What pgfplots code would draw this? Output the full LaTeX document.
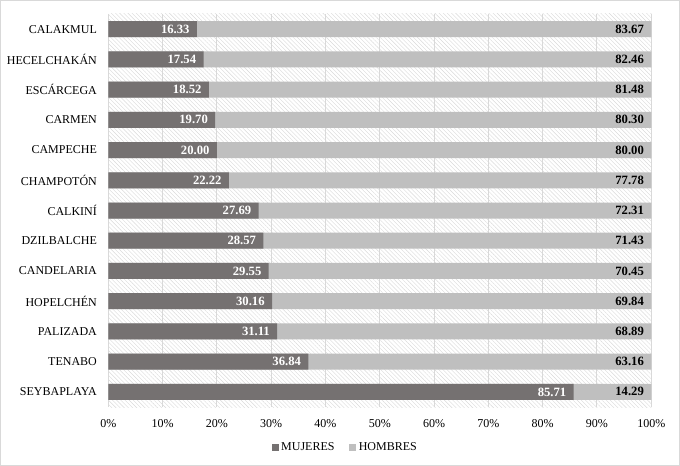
\documentclass[border=0pt]{standalone}
\usepackage{fontspec}
\setmainfont{Liberation Serif}
\usepackage{pgfplots}
\usepackage{pgfplotstable}
\pgfplotsset{compat=1.18}
\usetikzlibrary{patterns.meta}
\definecolor{muj}{HTML}{757171}
\definecolor{hom}{HTML}{BFBFBF}
\definecolor{gridc}{HTML}{D9D9D9}
\pgfplotstableread{
idx m h
0 16.33 83.67
1 17.54 82.46
2 18.52 81.48
3 19.70 80.30
4 20.00 80.00
5 22.22 77.78
6 27.69 72.31
7 28.57 71.43
8 29.55 70.45
9 30.16 69.84
10 31.11 68.89
11 36.84 63.16
12 85.71 14.29
}\datatable
\pgfplotstablecreatecol[expr={\thisrow{m}+\thisrow{h}}]{t}{\datatable}
\begin{document}
\begin{tikzpicture}
\useasboundingbox (-81.2pt,-44.25pt) rectangle (428.8pt,305.25pt);
\draw[gridc, line width=0.75pt] (-80.6pt,-43.6pt) rectangle (428.2pt,304.6pt);
\begin{axis}[
  at={(0,0)}, anchor=south west,
  scale only axis, width=407.25pt, height=294.75pt,
  xbar, bar width=12pt, bar shift=0pt,
  xmin=0, xmax=100, ymin=-0.5, ymax=12.5, y dir=reverse,
  ytick={0,...,12},
  yticklabels={CALAKMUL,HECELCHAKÁN,ESCÁRCEGA,CARMEN,CAMPECHE,CHAMPOTÓN,CALKINÍ,DZILBALCHE,CANDELARIA,HOPELCHÉN,PALIZADA,TENABO,SEYBAPLAYA},
  xtick={0,10,...,100},
  xticklabel={\pgfmathprintnumber{\tick}\%},
  /pgf/number format/assume math mode=true,
  axis line style={draw=none}, major tick length=0pt,
  xmajorgrids, grid style={gridc, line width=0.75pt},
  axis background/.style={pattern={Lines[angle=-45,distance=2.2pt,line width=0.3pt]}, pattern color=gray!30},
  tick label style={font=\fontsize{9}{10}\selectfont, text=black},
  yticklabel style={xshift=-5pt},
  xticklabel style={yshift=-6pt},
  point meta=explicit,
  nodes near coords={\pgfmathprintnumber[fixed,fixed zerofill,precision=2,assume math mode=true]{\pgfplotspointmeta}},
  legend style={at={(0.437,-0.104)}, anchor=center, draw=none, fill=none,
    legend columns=2, font=\fontsize{9}{10}\selectfont,
    /tikz/every even column/.append style={column sep=9pt},
    inner sep=0pt},
  legend cell align=left,
  legend image code/.code={\fill[#1] (0pt,-2.6pt) rectangle (5.2pt,2.6pt);},
]
\addplot[fill=hom, draw=none, forget plot,
  every node near coord/.style={anchor=east, xshift=-2pt, text=black, font=\bfseries\fontsize{9.5}{10}\selectfont}]
  table[x=t, y=idx, meta=h] {\datatable};
\addplot[fill=muj, draw=none, forget plot,
  every node near coord/.style={anchor=east, xshift=-2pt, text=white, font=\bfseries\fontsize{9.5}{10}\selectfont}]
  table[x=m, y=idx, meta=m] {\datatable};
\addlegendimage{fill=muj, draw=none}
\addlegendentry{MUJERES}
\addlegendimage{fill=hom, draw=none}
\addlegendentry{HOMBRES}
\end{axis}
\end{tikzpicture}
\end{document}
